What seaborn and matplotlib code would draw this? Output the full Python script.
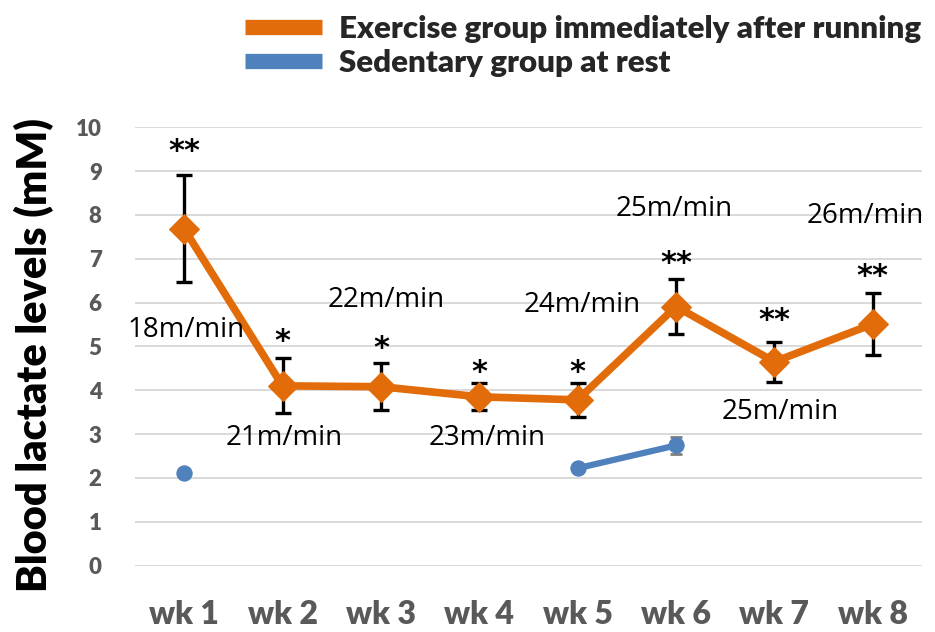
import numpy as np
import pandas as pd
import matplotlib
matplotlib.use('Agg')
import matplotlib.pyplot as plt
import seaborn as sns
from matplotlib.lines import Line2D

weeks = ['wk 1', 'wk 2', 'wk 3', 'wk 4', 'wk 5', 'wk 6', 'wk 7', 'wk 8']
exercise = [7.68, 4.10, 4.08, 3.85, 3.78, 5.91, 4.65, 5.51]
exercise_err = [1.22, 0.63, 0.53, 0.31, 0.39, 0.62, 0.46, 0.71]
sedentary = [2.11, np.nan, np.nan, np.nan, 2.22, 2.74, np.nan, np.nan]
sedentary_err = [0.0, np.nan, np.nan, np.nan, 0.0, 0.20, np.nan, np.nan]
stars = ['**', '*', '*', '*', '*', '**', '**', '**']
speeds = ['18m/min', '21m/min', '22m/min', '23m/min', '24m/min', '25m/min', '25m/min', '26m/min']

# where the text sits (data units)
star_y = [9.45, 5.12, 4.95, 4.4, 4.4, 6.9, 5.58, 6.6]
speed_y = [5.37, 2.90, 6.06, 2.90, 5.95, 8.14, 3.50, 7.98]
speed_dx = [0.02, 0.02, 0.05, 0.08, 0.05, -0.02, 0.06, -0.08]

orange = '#E36C0A'
blue = '#4F81BD'

sns.set_style('white')
plt.rcParams['font.family'] = ['Lato', 'DejaVu Sans']

idx = list(range(len(weeks)))
ex_df = pd.DataFrame({'x': idx, 'y': exercise})
sed_df = pd.DataFrame({'x': idx, 'y': sedentary}).dropna()
# split the rest group where weeks are missing so the line is not joined
sed_df['seg'] = (sed_df['x'].diff() != 1).cumsum()

fig = plt.figure(figsize=(9.35, 6.32), dpi=100)
ax = fig.add_axes([0.1444, 0.1052, 0.8416, 0.6934])

ax.errorbar(idx, exercise, yerr=exercise_err, fmt='none', ecolor='black',
            elinewidth=2.4, capsize=6, capthick=2.4, zorder=2)
ax.errorbar(idx, sedentary, yerr=sedentary_err, fmt='none', ecolor='#7f7f7f',
            elinewidth=2, capsize=4, capthick=2, zorder=2)

sns.lineplot(data=ex_df, x='x', y='y', color=orange, lw=5.5, marker='D',
             markersize=15, markeredgecolor=orange, ax=ax, zorder=3)
sns.lineplot(data=sed_df, x='x', y='y', units='seg', estimator=None, color=blue,
             lw=4.5, marker='o', markersize=11, markeredgecolor=blue, ax=ax, zorder=3)

for i in idx:
    ax.text(i, star_y[i], stars[i], ha='center', va='center', fontsize=22,
            fontweight='bold', color='black', family=['DejaVu Sans'])
    ax.text(i + speed_dx[i], speed_y[i], speeds[i], ha='center', va='center',
            fontsize=20, color='black', family=['Open Sans', 'DejaVu Sans'])

ax.set_xlim(-0.5, 7.5)
ax.set_ylim(0, 10)
ax.set_yticks(range(0, 11))
ax.set_xticks(idx)
ax.set_xticklabels(weeks)
ax.grid(axis='y', color='#d9d9d9', lw=1.4)
ax.set_axisbelow(True)
for s in ax.spines.values():
    s.set_visible(False)
ax.tick_params(axis='x', length=0, pad=25, labelsize=23, labelcolor='#595959')
ax.tick_params(axis='y', length=0, pad=24, labelsize=16, labelcolor='#595959')
for t in ax.get_xticklabels() + ax.get_yticklabels():
    t.set_fontweight('heavy')
ax.set_xlabel('')
ax.set_ylabel('Blood lactate levels (mM)', fontsize=30, fontweight='heavy',
              color='black')
ax.yaxis.set_label_coords(-0.103, 0.48)

handles = [Line2D([], [], color=orange, lw=11, solid_capstyle='butt'),
           Line2D([], [], color=blue, lw=11, solid_capstyle='butt')]
fig.legend(handles, ['Exercise group immediately after running', 'Sedentary group at rest'],
           loc='upper left', bbox_to_anchor=(0.262, 0.976), frameon=False,
           borderpad=0, borderaxespad=0,
           prop={'size': 22.5, 'weight': 'heavy'}, handlelength=2.45,
           handletextpad=0.55, labelspacing=0.18)

fig.savefig('out.png', dpi=100)
